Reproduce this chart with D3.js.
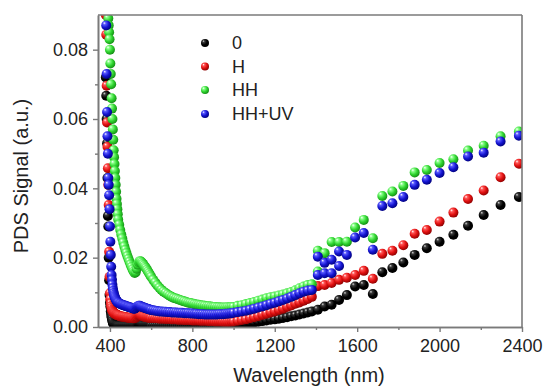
<!DOCTYPE html>
<html><head><meta charset="utf-8">
<script src="https://cdn.jsdelivr.net/npm/d3@7"></script>
<style>
body{margin:0;background:#fff}
svg{display:block}
text{font-family:"Liberation Sans",Arial,Helvetica,sans-serif;fill:#222}
</style>
</head><body>
<svg id="chart" width="543" height="386"></svg>
<script>
// ---------- DATA ----------
const seriesNames = ["0", "H", "HH", "HH+UV"];
const xTicks = [400, 800, 1200, 1600, 2000, 2400];
const xMinorTicks = [600, 1000, 1400, 1800, 2200];
const yTicks = [0, 0.02, 0.04, 0.06, 0.08];
const yMinorTicks = [0.01, 0.03, 0.05, 0.07];

// wavelength blocks (nm)
const wlA = [380,382,384,386,388,390,392,394,396,398,400,402,404,406,408,410,412,414,416,418,420,422,424,426,428,430,432,434,436,438,440];
const wlB = [445,450,455,460,465,470,475,480,485,490,495,500,505,510,515,520,525,530,535,540,545,550,555,560,565,570,575,580,585,590,595,600];
const wlC = [610,620,630,640,650,660,670,680,690,700,710,720,730,740,750,760,770,780,790,800,810,820,830,840,850,860,870,880,890,900,910,920,930,940,950,960,970,980,990,1000];
const wlD = [1020,1040,1060,1080,1100,1120,1140,1160,1180,1200,1220,1240,1260,1280,1300,1320,1340,1360,1380];
const wlSeg2 = [1409,1442,1476,1512,1550,1590,1632,1676];
const wlSeg3 = [1722,1771,1824,1879,1938,2000,2067,2138,2214,2296,2385];
const wlOverlap = [1409,1442,1476,1512];

// series "0"
const s0A = [0.072,0.0667,0.060,0.053,0.043,0.032,0.029,0.020,0.0135,0.0092,0.0070,0.0059,0.0045,0.0035,0.0028,0.0022,0.0017,0.0013,0.0010,0.0008,0.0007,0.0006,0.0005,0.0005,0.0004,0.0004,0.0004,0.0004,0.0003,0.0003,0.0003];
const s0B = [0.0003,0.0003,0.0003,0.0003,0.0003,0.0003,0.0003,0.0003,0.0003,0.0003,0.0003,0.0003,0.0003,0.0003,0.0003,0.0003,0.0003,0.0003,0.0005,0.0007,0.0008,0.0007,0.0006,0.0005,0.0004,0.0004,0.0004,0.0004,0.0004,0.0004,0.0004,0.0004];
const s0C = [0.0004,0.0004,0.0004,0.0004,0.0004,0.0004,0.0004,0.0004,0.0004,0.0004,0.0004,0.0004,0.0004,0.0004,0.0004,0.0004,0.0004,0.0004,0.0004,0.0004,0.0004,0.0004,0.0004,0.0004,0.0004,0.0004,0.0004,0.0004,0.0004,0.0004,0.0004,0.0004,0.0005,0.0005,0.0005,0.0006,0.0006,0.0006,0.0007,0.0007];
const s0D = [0.0008,0.0009,0.0010,0.0012,0.0013,0.0015,0.0017,0.0019,0.0021,0.0022,0.0024,0.0026,0.0028,0.0031,0.0033,0.0036,0.0039,0.0042,0.0045];
const s0Seg2 = [0.0050,0.0059,0.0064,0.0078,0.0092,0.0117,0.0121,0.0095];
const s0Seg3 = [0.0158,0.0170,0.0186,0.0208,0.0227,0.0246,0.0266,0.0292,0.0323,0.0352,0.0375];
const s0Overlap = [];

// series "H"
const sHA = [0.090,0.0843,0.0696,0.059,0.052,0.0458,0.041,0.0352,0.0217,0.0145,0.0097,0.0080,0.0068,0.0060,0.0055,0.0050,0.0047,0.0045,0.0043,0.0041,0.0040,0.0039,0.0038,0.0037,0.0036,0.0036,0.0035,0.0035,0.0034,0.0034,0.0033];
const sHB = [0.0032,0.0031,0.0030,0.0030,0.0029,0.0029,0.0028,0.0028,0.0027,0.0027,0.0026,0.0026,0.0026,0.0025,0.0025,0.0025,0.0027,0.0030,0.0033,0.0035,0.0035,0.0034,0.0032,0.0031,0.0030,0.0029,0.0028,0.0028,0.0027,0.0027,0.0026,0.0026];
const sHC = [0.0026,0.0025,0.0025,0.0024,0.0024,0.0024,0.0023,0.0023,0.0023,0.0022,0.0022,0.0022,0.0021,0.0021,0.0021,0.0020,0.0020,0.0020,0.0020,0.0019,0.0019,0.0019,0.0019,0.0018,0.0018,0.0018,0.0018,0.0017,0.0017,0.0017,0.0016,0.0016,0.0016,0.0016,0.0015,0.0015,0.0015,0.0015,0.0016,0.0016];
const sHD = [0.0018,0.0020,0.0022,0.0025,0.0028,0.0031,0.0035,0.0038,0.0042,0.0045,0.0049,0.0053,0.0058,0.0062,0.0067,0.0071,0.0076,0.0081,0.0087];
const sHSeg2 = [0.0118,0.0121,0.0127,0.0136,0.0142,0.0150,0.0162,0.0139];
const sHSeg3 = [0.0211,0.0220,0.0236,0.0269,0.0280,0.0304,0.0330,0.0369,0.0394,0.0432,0.0471];
const sHOverlap = [];

// series "HH"
const sHHA = [0.115,0.108,0.102,0.098,0.095,0.092,0.089,0.087,0.085,0.083,0.080,0.076,0.073,0.070,0.066,0.063,0.060,0.057,0.054,0.051,0.049,0.047,0.045,0.043,0.041,0.039,0.037,0.0355,0.034,0.0325,0.031];
const sHHB = [0.0295,0.028,0.0267,0.0255,0.0243,0.0232,0.0222,0.0213,0.0204,0.0196,0.0188,0.0180,0.0173,0.0166,0.0160,0.0156,0.0158,0.0168,0.0180,0.0187,0.0190,0.0189,0.0186,0.0182,0.0178,0.0174,0.0170,0.0165,0.0160,0.0155,0.0150,0.0145];
const sHHC = [0.0136,0.0128,0.0120,0.0113,0.0107,0.0102,0.0098,0.0094,0.0090,0.0087,0.0084,0.0082,0.0080,0.0078,0.0076,0.0074,0.0072,0.0070,0.0069,0.0068,0.0066,0.0065,0.0064,0.0063,0.0062,0.0061,0.0060,0.0060,0.0059,0.0058,0.0058,0.0057,0.0057,0.0056,0.0056,0.0056,0.0057,0.0057,0.0058,0.0058];
const sHHD = [0.0061,0.0063,0.0066,0.0069,0.0072,0.0076,0.0079,0.0083,0.0086,0.0088,0.0091,0.0094,0.0097,0.0101,0.0106,0.0112,0.0117,0.0121,0.0123];
const sHHSeg2 = [0.0220,0.0213,0.0245,0.0245,0.0246,0.0287,0.0309,0.0256];
const sHHSeg3 = [0.0378,0.0391,0.0407,0.0446,0.0453,0.0473,0.0484,0.0509,0.0523,0.0550,0.0564];
const sHHOverlap = [0.0160];

// series "HH+UV"
const sUVA = [0.092,0.087,0.073,0.062,0.055,0.050,0.043,0.041,0.038,0.034,0.029,0.0246,0.0208,0.0174,0.0150,0.0136,0.0122,0.0112,0.0104,0.0098,0.0093,0.0089,0.0086,0.0083,0.0080,0.0078,0.0076,0.0074,0.0072,0.0071,0.0070];
const sUVB = [0.0068,0.0067,0.0065,0.0064,0.0063,0.0062,0.0061,0.0060,0.0059,0.0058,0.0057,0.0056,0.0055,0.0054,0.0053,0.0053,0.0055,0.0058,0.0060,0.0061,0.0061,0.0060,0.0058,0.0057,0.0056,0.0055,0.0054,0.0053,0.0052,0.0051,0.0050,0.0049];
const sUVC = [0.0048,0.0047,0.0046,0.0045,0.0045,0.0044,0.0044,0.0043,0.0043,0.0042,0.0042,0.0042,0.0041,0.0041,0.0041,0.0040,0.0040,0.0040,0.0039,0.0039,0.0038,0.0038,0.0037,0.0037,0.0037,0.0036,0.0036,0.0036,0.0036,0.0036,0.0036,0.0036,0.0037,0.0037,0.0037,0.0038,0.0038,0.0039,0.0040,0.0041];
const sUVD = [0.0043,0.0045,0.0047,0.0050,0.0053,0.0056,0.0059,0.0063,0.0067,0.0070,0.0074,0.0078,0.0082,0.0087,0.0092,0.0097,0.0102,0.0105,0.0107];
const sUVSeg2 = [0.0203,0.0185,0.0194,0.0218,0.0208,0.0258,0.0271,0.0223];
const sUVSeg3 = [0.0349,0.0357,0.0375,0.0410,0.0425,0.0444,0.0461,0.0492,0.0503,0.0535,0.0552];
const sUVOverlap = [0.0150,0.0155,0.0155,0.0176];

// ---------- BUILD ----------
const wlBlocks = [wlA, wlB, wlC, wlD, wlSeg2, wlSeg3, wlOverlap];
const seriesBlocks = [
  [s0A, s0B, s0C, s0D, s0Seg2, s0Seg3, s0Overlap],
  [sHA, sHB, sHC, sHD, sHSeg2, sHSeg3, sHOverlap],
  [sHHA, sHHB, sHHC, sHHD, sHHSeg2, sHHSeg3, sHHOverlap],
  [sUVA, sUVB, sUVC, sUVD, sUVSeg2, sUVSeg3, sUVOverlap]
];
const palette = [
  {id:"g0", hi:"#d8d8d8", mid:"#3a3a3a", base:"#000000", edge:"#000000"},
  {id:"g1", hi:"#ffffff", mid:"#ff5555", base:"#e01010", edge:"#8a0000"},
  {id:"g2", hi:"#ffffff", mid:"#88ff88", base:"#2fd42f", edge:"#138a13"},
  {id:"g3", hi:"#ffffff", mid:"#5a5aff", base:"#1414d0", edge:"#00007a"}
];

const series = seriesBlocks.map((blocks, si) => {
  const pts = [];
  blocks.forEach((vals, bi) => {
    const wl = wlBlocks[bi];
    const n = Math.min(vals.length, wl.length);
    for (let i = 0; i < n; i++) pts.push({x: wl[i], y: vals[i]});
  });
  return {name: seriesNames[si], pts, pal: palette[si]};
});

// ---------- DRAW ----------
const svg = d3.select("#chart");
const L = 98, R = 522, T = 15, B = 327;
const x = d3.scaleLinear().domain([342, 2400]).range([L, R]);
const y = d3.scaleLinear().domain([0, 0.09]).range([B, T]);

const defs = svg.append("defs");
palette.forEach(p => {
  const g = defs.append("radialGradient").attr("id", p.id)
    .attr("cx", "40%").attr("cy", "38%").attr("r", "65%")
    .attr("fx", "30%").attr("fy", "26%");
  g.append("stop").attr("offset", "0%").attr("stop-color", p.hi);
  g.append("stop").attr("offset", "22%").attr("stop-color", p.mid);
  g.append("stop").attr("offset", "60%").attr("stop-color", p.base);
  g.append("stop").attr("offset", "100%").attr("stop-color", p.edge);
});
defs.append("clipPath").attr("id", "plotClip")
  .append("rect").attr("x", L).attr("y", T).attr("width", R - L).attr("height", B - T);

const plot = svg.append("g").attr("clip-path", "url(#plotClip)");
series.forEach(s => {
  plot.append("g").selectAll("circle").data(s.pts).join("circle")
    .attr("cx", d => x(d.x)).attr("cy", d => y(d.y)).attr("r", 5)
    .attr("fill", `url(#${s.pal.id})`);
});

const axisColor = "#7a7a7a";
function styleAxis(g) {
  g.selectAll(".domain").attr("stroke", axisColor).attr("stroke-width", 1.6);
  g.selectAll(".tick line").attr("stroke", axisColor).attr("stroke-width", 1.4);
  g.selectAll(".tick text").attr("fill", "#222").style("font-size", "18px")
    .style("font-family", '"Liberation Sans", Arial, sans-serif');
}

// frame top and right
svg.append("line").attr("x1", L).attr("x2", R).attr("y1", T).attr("y2", T)
  .attr("stroke", axisColor).attr("stroke-width", 1.6);
svg.append("line").attr("x1", R).attr("x2", R).attr("y1", T).attr("y2", B)
  .attr("stroke", axisColor).attr("stroke-width", 1.6);

// minor ticks
svg.append("g").attr("transform", `translate(0,${B})`)
  .call(d3.axisBottom(x).tickValues(xMinorTicks).tickSize(3).tickFormat("").tickSizeOuter(0))
  .call(styleAxis);
svg.append("g").attr("transform", `translate(${L},0)`)
  .call(d3.axisLeft(y).tickValues(yMinorTicks).tickSize(3).tickFormat("").tickSizeOuter(0))
  .call(styleAxis);
// major
svg.append("g").attr("transform", `translate(0,${B})`)
  .call(d3.axisBottom(x).tickValues(xTicks).tickSize(5).tickPadding(7).tickFormat(d3.format("d")).tickSizeOuter(0))
  .call(styleAxis);
svg.append("g").attr("transform", `translate(${L},0)`)
  .call(d3.axisLeft(y).tickValues(yTicks).tickSize(5).tickPadding(5).tickFormat(d3.format(".2f")).tickSizeOuter(0))
  .call(styleAxis);

// axis titles
svg.append("text").attr("x", 309).attr("y", 382).attr("text-anchor", "middle")
  .style("font-size", "20px").text("Wavelength (nm)");
svg.append("text").attr("transform", "translate(27.5,176) rotate(-90)").attr("text-anchor", "middle")
  .style("font-size", "20px").text("PDS Signal (a.u.)");

// legend
const legendY = [43, 66.5, 90, 114];
const leg = svg.append("g");
series.forEach((s, i) => {
  leg.append("circle").attr("cx", 205).attr("cy", legendY[i]).attr("r", 4)
    .attr("fill", `url(#${s.pal.id})`);
  leg.append("text").attr("x", 232).attr("y", legendY[i] + 6.3)
    .style("font-size", "18px").text(s.name);
});
</script>
</body></html>
